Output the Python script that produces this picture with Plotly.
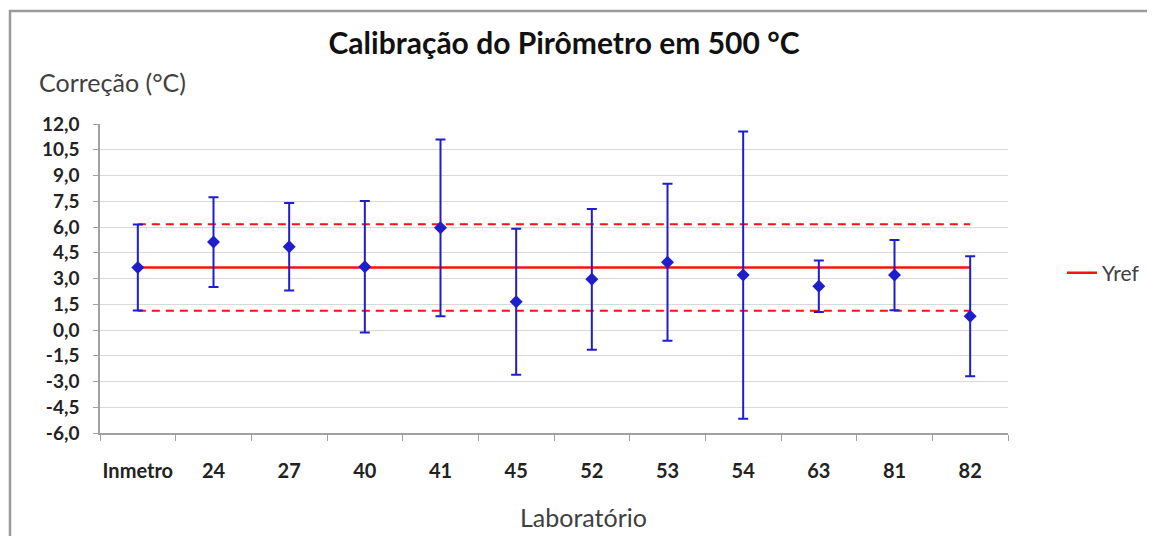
import plotly.graph_objects as go

labs = ["Inmetro", "24", "27", "40", "41", "45", "52", "53", "54", "63", "81", "82"]
correcao = [3.64, 5.12, 4.85, 3.68, 5.95, 1.65, 2.95, 3.95, 3.20, 2.55, 3.20, 0.80]
incerteza = [2.50, 2.62, 2.55, 3.83, 5.15, 4.25, 4.10, 4.57, 8.37, 1.50, 2.05, 3.50]
yref = 3.64
u_yref = 2.52

ytick_vals = [-6.0, -4.5, -3.0, -1.5, 0.0, 1.5, 3.0, 4.5, 6.0, 7.5, 9.0, 10.5, 12.0]
ytick_text = ["-6,0", "-4,5", "-3,0", "-1,5", "0,0", "1,5", "3,0", "4,5", "6,0", "7,5", "9,0", "10,5", "12,0"]

FONT = "Lato, 'Open Sans', sans-serif"
BLUE = "#1E1ECC"
RED = "#FF1010"

# page offset (body margin) and figure size
OX, OY = 8, 8
W, H = 1155 - OX, 536 - OY
# plot area in screen pixels
L, R, T, B = 100, 1008, 124, 433
pw, ph = R - L, B - T


def px(x):
    return (x - L) / pw


def py(y):
    return (B - y) / ph


fig = go.Figure()

fig.add_trace(go.Scatter(
    x=labs, y=[yref + u_yref] * len(labs), mode="lines",
    line=dict(color=RED, width=2, dash="8px,6px"), showlegend=False, hoverinfo="skip"))
fig.add_trace(go.Scatter(
    x=labs, y=[yref - u_yref] * len(labs), mode="lines",
    line=dict(color=RED, width=2, dash="8px,6px"), showlegend=False, hoverinfo="skip"))
fig.add_trace(go.Scatter(
    x=labs, y=[yref] * len(labs), mode="lines", name="Yref",
    line=dict(color=RED, width=2.5)))
fig.add_trace(go.Scatter(
    x=labs, y=correcao, mode="markers", name="Correção", showlegend=False,
    marker=dict(symbol="diamond", size=10, color=BLUE),
    error_y=dict(type="data", array=incerteza, visible=True, color=BLUE,
                 thickness=2, width=5)))

YTICKFONT = dict(size=19, color="#222222", family=FONT, weight="bold")
XTICKFONT = dict(size=20, color="#222222", family=FONT, weight="bold")

fig.update_layout(
    width=W, height=H,
    margin=dict(l=L - OX, r=W - (R - OX), t=T - OY, b=H - (B - OY), autoexpand=False),
    paper_bgcolor="white", plot_bgcolor="white",
    font=dict(family=FONT, color="#262626"),
    title=dict(text="<b>Calibração do Pirômetro em 500 °C</b>", x=(564 - OX) / W, xref="container",
               xanchor="center", y=1 - (43 - OY) / H, yref="container", yanchor="middle",
               font=dict(size=30, color="#111111", family=FONT)),
    showlegend=True,
    legend=dict(x=px(1062), y=py(273), xanchor="left", yanchor="middle",
                font=dict(size=21, color="#404040", family=FONT),
                bgcolor="rgba(0,0,0,0)"),
    xaxis=dict(type="category", showgrid=False, showline=True, linecolor="#A0A0A0",
               linewidth=1.5, ticks="outside", tickson="boundaries", ticklen=6,
               tickcolor="#A0A0A0", tickfont=XTICKFONT, tickangle=0,
               ticklabelstandoff=19, automargin=False, zeroline=False,
               range=[-0.5, len(labs) - 0.5]),
    yaxis=dict(range=[-6, 12], tickvals=ytick_vals, ticktext=ytick_text,
               showgrid=True, gridcolor="#D9D9D9", gridwidth=1, showline=True,
               linecolor="#A0A0A0", linewidth=1.5, ticks="outside", ticklen=5,
               tickcolor="#A0A0A0", tickfont=YTICKFONT, ticklabelstandoff=10,
               zeroline=False, automargin=False),
    annotations=[
        dict(text="Correção (°C)", x=px(37), y=py(82), xref="paper", yref="paper",
             xanchor="left", yanchor="middle", showarrow=False,
             font=dict(size=25, color="#404040", family=FONT)),
        dict(text="Laboratório", x=px(583), y=py(517), xref="paper", yref="paper",
             xanchor="center", yanchor="middle", showarrow=False,
             font=dict(size=25, color="#404040", family=FONT)),
    ],
    shapes=[
        dict(type="rect", xref="paper", yref="paper", x0=px(10), x1=px(1152),
             y0=py(570), y1=py(11), line=dict(color="#9A9A9A", width=2.5),
             fillcolor="rgba(0,0,0,0)", layer="below"),
    ],
)

fig.write_html("out.html")
